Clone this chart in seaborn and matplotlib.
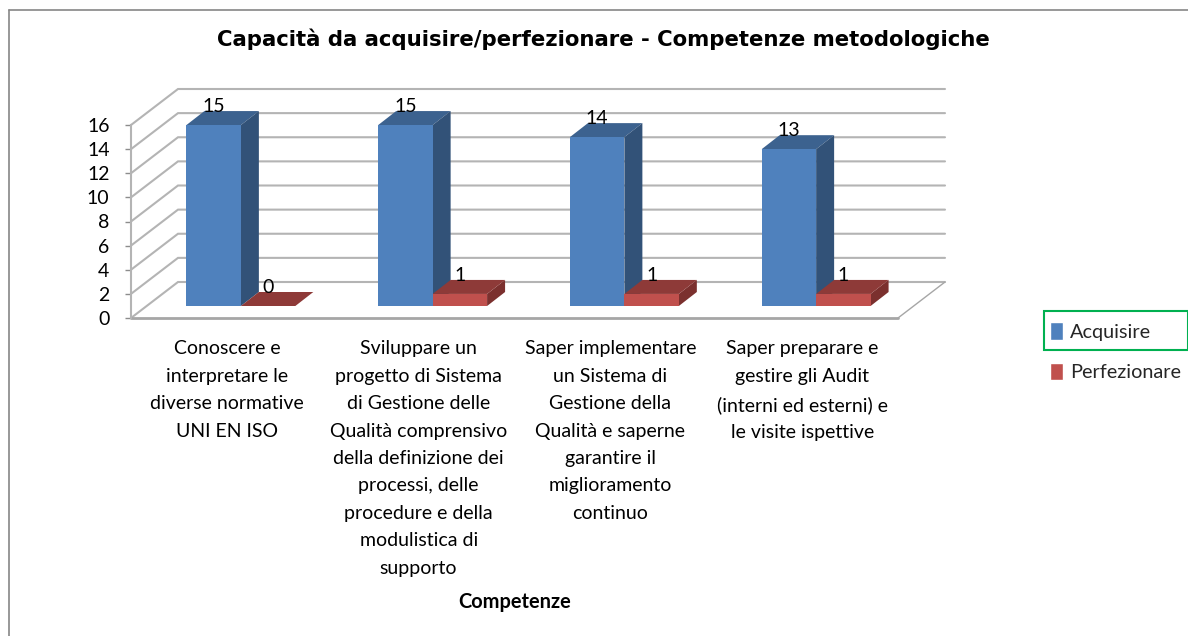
import matplotlib
matplotlib.use("Agg")
import matplotlib.pyplot as plt
from matplotlib.lines import Line2D
from matplotlib.patches import Polygon, Rectangle
import pandas as pd
import seaborn as sns

# ---- data
categories = [
    "Conoscere e\ninterpretare le\ndiverse normative\nUNI EN ISO",
    "Sviluppare un\nprogetto di Sistema\ndi Gestione delle\nQualità comprensivo\ndella definizione dei\nprocessi, delle\nprocedure e della\nmodulistica di\nsupporto",
    "Saper implementare\nun Sistema di\nGestione della\nQualità e saperne\ngarantire il\nmiglioramento\ncontinuo",
    "Saper preparare e\ngestire gli Audit\n(interni ed esterni) e\nle visite ispettive",
]
acquisire = [15, 15, 14, 13]
perfezionare = [0, 1, 1, 1]
series_names = ["Acquisire", "Perfezionare"]
y_ticks = [0, 2, 4, 6, 8, 10, 12, 14, 16]
title = "Capacità da acquisire/perfezionare - Competenze metodologiche"
x_title = "Competenze"

# ---- styles
W, H = 1188, 636
FONT = "Lato"
FRONT = ["#4F81BD", "#C0504D"]
TOP = ["#3C628F", "#8E3A38"]
SIDE = ["#325278", "#7B302E"]
GRID = "#B4B4B4"

sns.set_theme(style="white")
plt.rcParams["font.family"] = FONT

fig = plt.figure(figsize=(W / 100, H / 100), dpi=100, facecolor="white")
left, right, top, bottom = 131, 898, 125, 318
ax = fig.add_axes([left / W, 1 - bottom / H, (right - left) / W, (bottom - top) / H])

df = pd.DataFrame({
    "Competenza": categories * 2,
    "Numero": acquisire + perfezionare,
    "Serie": [series_names[0]] * 4 + [series_names[1]] * 4,
})
sns.barplot(data=df, x="Competenza", y="Numero", hue="Serie", palette=FRONT,
            width=0.568, gap=0, saturation=1, ax=ax, zorder=4)
ax.set_xlim(-0.5, 3.5)
ax.set_ylim(0, 16)

# pixel-to-data conversion for the pseudo-3D depth
px_x = 4 / (right - left)
px_y = 16 / (bottom - top)
wall_dx, wall_dy = 47 * px_x, 36 * px_y
bar_dx, bar_dy = 14 * px_x, 12 * px_y
depth_x, depth_y = 18 * px_x, 14 * px_y

# walls and floor
x0, x1 = ax.get_xlim()
for t in y_ticks:
    ax.plot([x0, x0 + wall_dx, x1 + wall_dx], [t, t + wall_dy, t + wall_dy],
            color=GRID, lw=1.5, clip_on=False, zorder=1, solid_joinstyle="miter")
ax.plot([x0, x1], [0, 0], color="#A6A6A6", lw=2, clip_on=False, zorder=1.5)
ax.plot([x1, x1 + wall_dx], [0, wall_dy], color="#A6A6A6", lw=1, clip_on=False, zorder=1.5)

# shift the bars onto their depth plane and add top and side faces
for s, container in enumerate(ax.containers):
    for bar in container:
        bar.set_clip_on(False)
        bar.set_linewidth(0)
        bar.set_x(bar.get_x() + bar_dx)
        bar.set_y(bar_dy)
        xa, w, h = bar.get_x(), bar.get_width(), bar.get_height()
        ya = bar_dy
        xb, yt = xa + w, ya + h
        ax.add_patch(Polygon(
            [(xa, yt), (xb, yt), (xb + depth_x, yt + depth_y), (xa + depth_x, yt + depth_y)],
            closed=True, facecolor=TOP[s], edgecolor="none", clip_on=False, zorder=3 + s * 0.2))
        ax.add_patch(Polygon(
            [(xb, ya), (xb, yt), (xb + depth_x, yt + depth_y), (xb + depth_x, ya + depth_y)],
            closed=True, facecolor=SIDE[s], edgecolor="none", clip_on=False, zorder=3 + s * 0.1))
    ax.bar_label(container, fmt="%d", padding=7, fontsize=14, color="black",
                 clip_on=False, zorder=6)

# axes styling
sns.despine(ax=ax, top=True, right=True, bottom=True, left=False)
ax.spines["left"].set_color(GRID)
ax.spines["left"].set_linewidth(1.5)
ax.set_yticks(y_ticks)
ax.set_ylabel("")
ax.tick_params(axis="y", length=4, width=1, color="#8C8C8C", pad=11.5, labelsize=14,
               left=True, labelcolor="black")
ax.tick_params(axis="x", length=0, pad=16, labelsize=14, labelcolor="black")
for lab in ax.get_xticklabels():
    lab.set_linespacing(1.745)
    lab.set_ha("center")
    lab.set_va("top")
ax.set_xlabel(x_title, fontsize=14.4, fontweight="bold", color="black", va="center")
ax.xaxis.set_label_coords(0.5, (bottom - 602) / (bottom - top))

fig.text(603 / W, 1 - 39 / H, title, ha="center", va="center", fontsize=15.3,
         fontweight="bold", family="DejaVu Sans", color="black")

# legend
handles, labels = ax.get_legend_handles_labels()
ax.legend(handles, labels, loc="upper left", bbox_to_anchor=(1042 / W, 1 - 314.5 / H),
          bbox_transform=fig.transFigure, frameon=False, fontsize=14.3,
          handlelength=0.65, handleheight=0.95, handletextpad=0.35,
          labelspacing=1.1, borderaxespad=0, borderpad=0.4)
fig.add_artist(Rectangle((1043.5 / W, 1 - 350 / H), 144 / W, 39 / H, transform=fig.transFigure,
                         fill=False, edgecolor="#00B050", lw=1.5))

# chart-area frame
frame = "#868686"
fig.add_artist(Line2D([8.5 / W, 8.5 / W], [0, 1 - 10 / H], color=frame, lw=1.2))
fig.add_artist(Line2D([8.5 / W, 1], [1 - 10 / H, 1 - 10 / H], color=frame, lw=1.2))

fig.savefig("out.png", dpi=100, facecolor="white")
